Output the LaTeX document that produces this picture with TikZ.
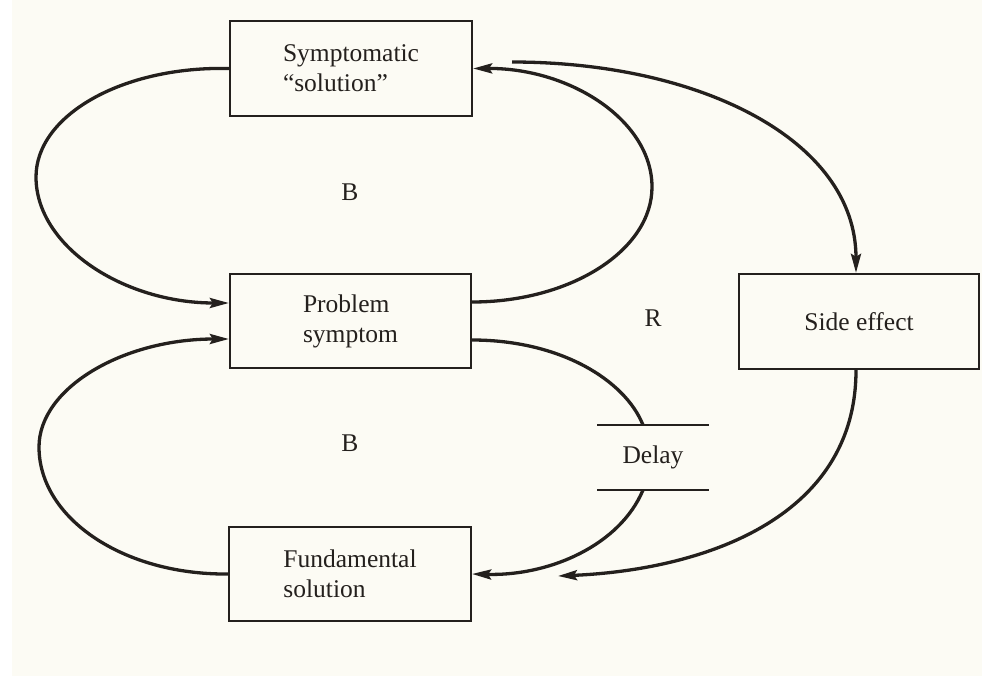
\documentclass[tikz,border=0pt]{standalone}
\usepackage{fontspec}
\setmainfont{Liberation Serif}
\usetikzlibrary{arrows.meta}
\definecolor{ink}{RGB}{36,32,29}
\definecolor{paper}{RGB}{252,251,244}
\begin{document}
\begin{tikzpicture}[x=1pt,y=-1pt,
  box/.style={draw=ink,line width=2.2pt,minimum width=242pt,minimum height=95pt,inner sep=0pt,align=left,text=ink},
  lbl/.style={text=ink,inner sep=0pt},
  link/.style={draw=ink,line width=3.3pt},
  arr/.style={link,-{Stealth[length=19pt,width=10pt,inset=3pt]}},
  bar/.style={draw=ink,line width=1.8pt},
  font=\fontsize{25.5}{30}\selectfont]
\useasboundingbox (0,0) rectangle (986,678);
\fill[white] (0,0) rectangle (986,678);
\fill[paper] (12,0) rectangle (982,676);

\node[box] (sym) at (351,68.5) {Symptomatic\\“solution”};
\node[box,minimum width=241pt,minimum height=94pt] (prob) at (350.5,321) {Problem\\symptom};
\node[box,minimum height=94pt] (fund) at (350,574) {Fundamental\\solution};
\node[box,minimum width=240pt,align=center] (side) at (859,321.5) {Side effect};

\node[lbl] (b1) at (350,192) {B};
\node[lbl] (b2) at (350,443) {B};
\node[lbl] (r) at (653,318) {R};
\node[lbl] (delay) at (653,457) {Delay};
\draw[bar] (597,425) coordinate (dtl) -- (709,425) coordinate (dtr);
\draw[bar] (597,490) coordinate (dbl) -- (709,490) coordinate (dbr);
\coordinate (dtop) at (643,425);
\coordinate (dbot) at (643,490);
\coordinate (sidestart) at (512,62);
\coordinate (sideend) at (558,576);
\coordinate (leftA) at (36,177);
\coordinate (leftB) at (39,447);
\coordinate (rightA) at (652,187);

% upper-left balancing loop
\draw[arr] (sym.west) .. controls (123,66) and (36,115) .. (leftA)
  .. controls (36,246) and (123,303) .. ([yshift=18pt]prob.west);
% lower-left balancing loop
\draw[arr] (fund.west) .. controls (123,575) and (39,518) .. (leftB)
  .. controls (39,388) and (123,339) .. ([yshift=-18pt]prob.west);
% right loop back to symptomatic solution
\draw[arr] ([yshift=19pt]prob.east) .. controls (571,302) and (652,250) .. (rightA)
  .. controls (652,121) and (571,68) .. (sym.east);
% to side effect
\draw[arr] (sidestart) .. controls (700,62) and (856,140) .. ([xshift=-3pt]side.north);
% problem to delay
\draw[link] ([yshift=-19pt]prob.east) .. controls (560,340) and (625,380) .. (dtop);
% delay to fundamental
\draw[arr] (dbot) .. controls (620,545) and (550,576) .. (fund.east);
% side effect to fundamental
\draw[arr] ([xshift=-3pt]side.south) .. controls (856,520) and (700,570) .. (sideend);
\end{tikzpicture}
\end{document}
